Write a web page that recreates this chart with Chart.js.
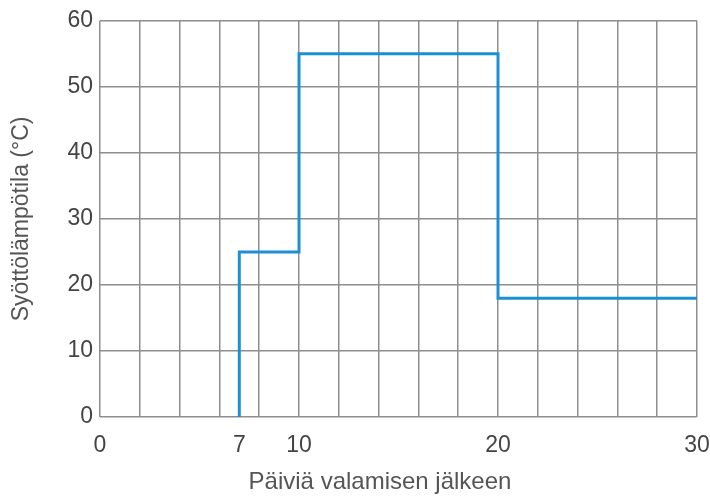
<!DOCTYPE html>
<html>
<head>
<meta charset="utf-8">
<script src="https://cdn.jsdelivr.net/npm/chart.js@4/dist/chart.umd.min.js"></script>
<style>
  html, body { margin: 0; padding: 0; background: #fff; }
  #wrap { width: 710px; height: 497px; position: relative; }
</style>
</head>
<body>
<div id="wrap"><canvas id="chart"></canvas></div>
<script>
// step curve: supply temperature after casting
const days = [7, 7, 10, 10, 20, 20, 30];
const temps = [0, 25, 25, 55, 55, 18, 18];
const xTickLabels = [0, 7, 10, 20, 30];
const yTicks = [0, 10, 20, 30, 40, 50, 60];
const xTitle = "Päiviä valamisen jälkeen";
const yTitle = "Syöttölämpötila (°C)";

const gridColor = "#8e8e8e";
const fontFamily = "'Liberation Sans', Arial, sans-serif";
const tickFont = { family: fontFamily, size: 23 };

// the x title sits a bit left of the plot centre in the original
const xTitlePlugin = {
  id: "xTitle",
  afterDraw(chart) {
    const ctx = chart.ctx;
    ctx.save();
    ctx.font = "24px " + fontFamily;
    ctx.fillStyle = "#555";
    ctx.textAlign = "center";
    ctx.textBaseline = "middle";
    ctx.fillText(xTitle, 380, 482);
    ctx.restore();
  },
};

new Chart(document.getElementById("chart"), {
  type: "line",
  data: {
    datasets: [
      {
        data: days.map((d, i) => ({ x: d, y: temps[i] })),
        borderColor: "#1e8fd5",
        borderWidth: 3,
        pointRadius: 0,
        tension: 0,
        fill: false,
      },
    ],
  },
  options: {
    responsive: true,
    maintainAspectRatio: false,
    animation: false,
    layout: { padding: { top: 19, right: 0, left: 0, bottom: 0 } },
    plugins: { legend: { display: false }, tooltip: { enabled: false } },
    scales: {
      x: {
        type: "linear",
        min: 0,
        max: 30,
        afterBuildTicks: (scale) => {
          scale.ticks = [];
          for (let v = 0; v <= 30; v++) scale.ticks.push({ value: v });
        },
        afterFit: (scale) => {
          scale.height = 80;
          scale.paddingLeft = 0;
          scale.paddingRight = 13;
        },
        ticks: {
          autoSkip: false,
          maxRotation: 0,
          padding: 15,
          color: "#444",
          font: tickFont,
          callback: (v) => (xTickLabels.includes(v) ? String(v) : ""),
        },
        grid: {
          drawTicks: false,
          lineWidth: 1.5,
          color: (ctx) => (ctx.tick && ctx.tick.value % 2 === 0 ? gridColor : "rgba(0,0,0,0)"),
        },
        border: { display: false },
        title: { display: false },
      },
      y: {
        min: 0,
        max: 60,
        afterBuildTicks: (scale) => {
          scale.ticks = yTicks.map((v) => ({ value: v }));
        },
        afterFit: (scale) => { scale.width = 100; },
        ticks: {
          padding: 7,
          color: "#444",
          font: tickFont,
        },
        grid: { drawTicks: false, lineWidth: 1.5, color: gridColor },
        border: { display: false },
        title: {
          display: true,
          text: yTitle,
          color: "#555",
          font: { family: fontFamily, size: 23 },
          padding: { top: 8, bottom: 0 },
        },
      },
    },
  },
  plugins: [xTitlePlugin],
});
</script>
</body>
</html>
